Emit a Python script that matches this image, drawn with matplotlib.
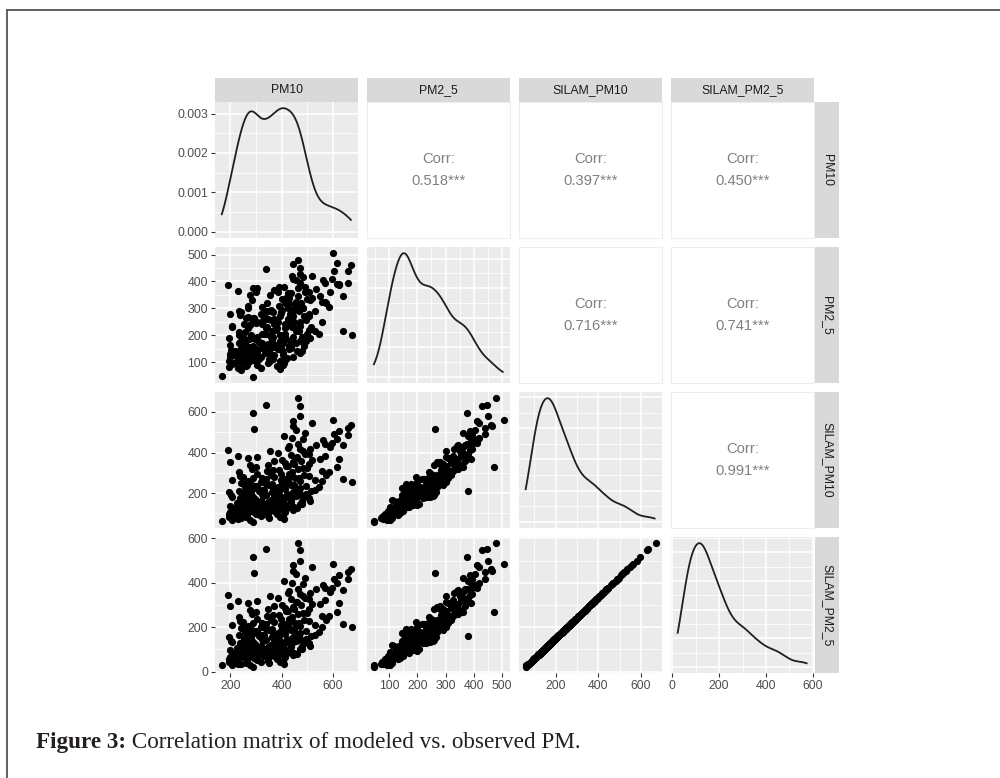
import numpy as np
import matplotlib
matplotlib.use("Agg")
import matplotlib.pyplot as plt
from matplotlib.lines import Line2D
from matplotlib.ticker import MaxNLocator

# ---------------- data ----------------
VARIABLES = ["PM10", "PM2_5", "SILAM_PM10", "SILAM_PM2_5"]

PM10 = [
    165, 205, 290, 240, 196, 410, 405, 265, 318, 195,
    350, 230, 278, 212, 200, 380, 218, 285, 248, 262,
    300, 335, 198, 412, 255, 276, 310, 345, 372, 478,
    420, 238, 268, 292, 325, 355, 388, 208, 388, 285,
    305, 362, 432, 445, 226, 250, 282, 330, 395, 418,
    460, 232, 298, 340, 232, 400, 242, 260, 288, 312,
    338, 365, 392, 495, 440, 202, 226, 252, 274, 296,
    322, 348, 376, 404, 428, 455, 480, 392, 236, 268,
    302, 328, 358, 384, 505, 436, 205, 280, 318, 370,
    398, 422, 247, 355, 470, 500, 195, 322, 255, 284,
    310, 342, 368, 395, 468, 448, 472, 515, 240, 270,
    300, 325, 352, 380, 405, 432, 458, 398, 262, 292,
    332, 362, 390, 415, 445, 545, 205, 238, 270, 305,
    338, 372, 398, 425, 452, 488, 530, 673, 250, 318,
    360, 412, 440, 470, 575, 290, 232, 285, 345, 390,
    425, 462, 505, 558, 300, 440, 412, 482, 615, 368,
    200, 268, 402, 438, 460, 492, 520, 570, 625, 445,
    385, 475, 228, 192, 355, 430, 462, 510, 570, 590,
    640, 485, 410, 440, 615, 560, 490, 660, 292, 625,
    520, 445, 658, 473, 446, 288, 600, 465, 473, 338,
    228, 262, 305, 345, 300, 392, 198, 236, 254, 271,
    289, 262, 326, 348, 366, 382, 405, 428, 448, 472,
    244, 318, 385, 246, 266, 294, 236, 334, 357, 378,
    396, 414, 438, 462, 486, 272, 352, 424, 512, 232,
    276, 305, 338, 364, 386, 412, 438, 466, 494, 530,
    258, 402, 268, 322, 358, 396, 430, 468, 506, 556,
    640, 342, 418, 450, 498, 585, 278, 372, 455, 508,
    548, 305, 472, 535, 598, 425, 482, 605, 458, 670,
]

PM2_5 = [
    48, 92, 45, 72, 80, 95, 88, 90, 78, 105,
    110, 120, 102, 98, 130, 85, 140, 110, 125, 100,
    150, 132, 165, 108, 145, 118, 112, 160, 128, 142,
    115, 175, 135, 108, 172, 105, 150, 128, 155, 118,
    138, 180, 165, 120, 102, 115, 190, 148, 104, 185,
    140, 200, 122, 205, 170, 145, 150, 160, 158, 175,
    225, 155, 200, 180, 230, 145, 125, 240, 185, 150,
    152, 168, 245, 135, 160, 170, 195, 178, 112, 228,
    140, 255, 192, 165, 220, 152, 235, 200, 118, 260,
    148, 245, 162, 130, 250, 205, 190, 240, 210, 260,
    175, 230, 195, 270, 215, 250, 180, 230, 285, 155,
    245, 205, 290, 225, 170, 280, 215, 200, 265, 145,
    255, 160, 380, 240, 195, 205, 230, 275, 300, 250,
    290, 240, 285, 260, 310, 270, 290, 200, 195, 280,
    295, 225, 295, 235, 320, 265, 290, 330, 260, 310,
    300, 345, 280, 325, 360, 240, 320, 300, 470, 285,
    280, 310, 335, 355, 300, 380, 340, 325, 390, 270,
    360, 320, 365, 385, 350, 340, 375, 330, 395, 360,
    345, 300, 380, 420, 390, 405, 360, 395, 262, 385,
    420, 465, 440, 450, 410, 375, 505, 478, 428, 445,
    78, 84, 88, 96, 110, 75, 118, 132, 150, 104,
    142, 126, 158, 138, 112, 162, 128, 148, 170, 135,
    98, 168, 150, 172, 160, 186, 145, 205, 168, 220,
    152, 195, 176, 228, 160, 236, 140, 242, 188, 210,
    238, 192, 262, 215, 248, 205, 272, 232, 258, 215,
    178, 295, 268, 305, 255, 282, 318, 290, 270, 248,
    215, 318, 340, 292, 335, 305, 350, 368, 325, 362,
    345, 375, 395, 370, 410, 355, 415, 440, 405, 460,
]

SILAM_PM10 = [
    62, 68, 58, 75, 82, 70, 88, 92, 85, 96,
    78, 98, 65, 90, 94, 99, 105, 112, 118, 102,
    125, 130, 138, 108, 142, 115, 120, 135, 110, 148,
    128, 145, 132, 104, 140, 118, 122, 126, 134, 112,
    146, 144, 136, 116, 121, 107, 149, 113, 131, 141,
    125, 139, 101, 147, 155, 162, 175, 168, 182, 158,
    190, 172, 185, 195, 178, 188, 152, 198, 165, 170,
    193, 157, 180, 163, 176, 187, 160, 171, 166, 192,
    154, 184, 167, 196, 174, 158, 181, 199, 161, 189,
    153, 197, 177, 151, 194, 183, 205, 215, 228, 238,
    210, 245, 220, 232, 208, 242, 225, 212, 248, 218,
    235, 202, 240, 214, 230, 246, 222, 236, 207, 226,
    217, 244, 211, 239, 204, 230, 262, 285, 255, 292,
    270, 280, 296, 258, 275, 288, 265, 254, 278, 252,
    298, 268, 283, 260, 290, 272, 305, 320, 340, 312,
    335, 318, 345, 308, 328, 302, 348, 325, 330, 315,
    355, 372, 362, 390, 378, 395, 365, 385, 370, 352,
    398, 360, 382, 412, 405, 430, 442, 418, 444, 425,
    435, 408, 482, 470, 468, 460, 495, 488, 517, 507,
    546, 530, 522, 580, 556, 595, 562, 668, 630, 634,
    72, 80, 95, 87, 97, 83, 106, 114, 127, 109,
    137, 119, 144, 103, 124, 133, 117, 140, 129, 146,
    111, 148, 156, 173, 184, 164, 176, 195, 159, 188,
    170, 182, 166, 192, 178, 197, 151, 186, 162, 212,
    224, 233, 247, 206, 228, 219, 240, 203, 237, 216,
    243, 249, 261, 276, 289, 266, 293, 272, 284, 257,
    270, 310, 333, 342, 322, 306, 337, 358, 375, 392,
    368, 380, 415, 438, 446, 422, 465, 490, 512, 535,
]

SILAM_PM2_5 = [
    28, 30, 22, 36, 42, 34, 48, 52, 45, 58,
    40, 60, 30, 50, 55, 56, 64, 72, 74, 61,
    84, 85, 96, 66, 97, 75, 76, 92, 70, 104,
    83, 101, 89, 62, 95, 78, 79, 84, 88, 71,
    103, 98, 93, 73, 80, 64, 105, 70, 90, 96,
    81, 94, 60, 102, 110, 116, 128, 122, 134, 112,
    142, 125, 137, 146, 131, 140, 107, 149, 119, 123,
    145, 111, 133, 117, 129, 139, 114, 124, 120, 144,
    109, 136, 121, 147, 127, 112, 134, 150, 115, 141,
    108, 148, 130, 106, 145, 135, 156, 165, 177, 186,
    160, 192, 169, 180, 158, 190, 174, 162, 195, 168,
    183, 153, 188, 164, 179, 193, 171, 184, 157, 175,
    167, 191, 161, 187, 155, 179, 208, 229, 202, 236,
    215, 225, 239, 204, 220, 232, 211, 201, 223, 199,
    241, 214, 227, 206, 234, 217, 248, 261, 280, 254,
    275, 260, 284, 250, 269, 245, 287, 266, 270, 257,
    294, 309, 300, 326, 315, 330, 303, 321, 307, 291,
    333, 298, 318, 346, 340, 363, 374, 352, 376, 358,
    367, 342, 410, 400, 398, 390, 422, 416, 443, 433,
    470, 455, 447, 500, 478, 514, 484, 578, 546, 550,
    34, 40, 54, 47, 57, 43, 65, 72, 85, 67,
    93, 77, 99, 62, 81, 89, 75, 95, 86, 102,
    69, 104, 111, 126, 137, 118, 130, 147, 113, 140,
    124, 134, 120, 143, 131, 148, 106, 138, 116, 163,
    172, 181, 194, 157, 176, 169, 189, 154, 185, 166,
    190, 196, 207, 221, 233, 212, 238, 218, 228, 203,
    215, 252, 274, 282, 263, 249, 276, 296, 312, 327,
    305, 316, 350, 370, 378, 356, 395, 418, 438, 460,
]

# upper-triangle correlation labels, row by row
CORR_LABELS = ["0.518***", "0.397***", "0.450***", "0.716***", "0.741***", "0.991***"]

X_TICKS = [[200, 400, 600], [100, 200, 300, 400, 500], [200, 400, 600], [0, 200, 400, 600]]
Y_TICKS = [[0.000, 0.001, 0.002, 0.003], [100, 200, 300, 400, 500], [200, 400, 600], [0, 200, 400, 600]]
Y_TICK_LABELS_ROW1 = ["0.000", "0.001", "0.002", "0.003"]

CAPTION_BOLD = "Figure 3:"
CAPTION_TEXT = " Correlation matrix of modeled vs. observed PM."

DATA = [PM10, PM2_5, SILAM_PM10, SILAM_PM2_5]

# ---------------- helpers ----------------
W, H = 1000, 778
fig = plt.figure(figsize=(W / 100, H / 100), dpi=100)
fig.patch.set_facecolor("white")

SANS = "Liberation Sans"
SERIF = "Liberation Serif"


def rect(x0, y0, w, h):
    return [x0 / W, 1 - (y0 + h) / H, w / W, h / H]


def expand(v, f=0.05):
    lo, hi = min(v), max(v)
    r = hi - lo
    return lo - f * r, hi + f * r


def minors(major, lo, hi):
    step = major[1] - major[0]
    out = []
    v = major[0] - step / 2
    while v < hi:
        if v > lo:
            out.append(v)
        v += step
    return out


def kde(x, adjust=0.85):
    x = np.asarray(x, float)
    n = len(x)
    sd = x.std(ddof=1)
    q75, q25 = np.percentile(x, [75, 25])
    bw = 0.9 * min(sd, (q75 - q25) / 1.34) * n ** -0.2 * adjust
    grid = np.linspace(x.min(), x.max(), 512)
    d = np.exp(-0.5 * ((grid[:, None] - x[None, :]) / bw) ** 2).sum(1) / (n * bw * np.sqrt(2 * np.pi))
    return grid, d


COL_X = [215, 367, 519, 671]
ROW_Y = [102, 247, 392, 537]
PW, PH = 143, 136
LIMS = [expand(v) for v in DATA]

PANEL_BG = "#EBEBEB"
TICK_COLOR = "#333333"
LABEL_COLOR = "#4D4D4D"

k = 0
for i in range(4):
    for j in range(4):
        ax = fig.add_axes(rect(COL_X[j], ROW_Y[i], PW, PH))
        for s in ax.spines.values():
            s.set_visible(False)
        if i < j:
            ax.set_facecolor("white")
            for s in ax.spines.values():
                s.set_visible(True)
                s.set_color("#EDEDED")
                s.set_linewidth(0.8)
            ax.set_xticks([])
            ax.set_yticks([])
            ax.text(0.5, 0.578, "Corr:", ha="center", va="center", fontsize=10.6,
                    color="#808080", family=SANS, transform=ax.transAxes)
            ax.text(0.5, 0.418, CORR_LABELS[k], ha="center", va="center", fontsize=10.6,
                    color="#808080", family=SANS, transform=ax.transAxes)
            k += 1
            continue

        ax.set_facecolor(PANEL_BG)
        ax.set_axisbelow(True)
        xlim = LIMS[j]
        ax.set_xlim(xlim)
        xt = X_TICKS[j]
        ax.set_xticks(xt)
        ax.set_xticks(minors(xt, *xlim), minor=True)

        if i == j:
            g, d = kde(DATA[i])
            ax.plot(g, d, color="#1F1F1F", lw=1.3, solid_capstyle="butt")
            top = d.max()
            ylim = (-0.05 * top, 1.05 * top)
            if i == 0:
                yt = Y_TICKS[0]
            else:
                yt = [v for v in MaxNLocator(nbins=5, steps=[1, 2, 2.5, 5, 10]).tick_values(0, top)
                      if ylim[0] <= v <= ylim[1]]
        else:
            ax.scatter(DATA[j], DATA[i], s=27, c="black", linewidths=0)
            ylim = LIMS[i]
            yt = Y_TICKS[i]
        ax.set_ylim(ylim)
        ax.set_yticks(yt)
        ax.set_yticks(minors(yt, *ylim), minor=True)
        if i == 0 and j == 0:
            ax.set_yticklabels(Y_TICK_LABELS_ROW1)

        ax.grid(which="major", color="white", lw=1.1)
        ax.grid(which="minor", color="white", lw=0.55)
        ax.tick_params(which="minor", length=0, labelbottom=False, labelleft=False)
        ax.tick_params(which="major", length=2.75, width=0.8, color=TICK_COLOR,
                       labelsize=8.8, labelcolor=LABEL_COLOR, pad=2.2)
        ax.tick_params(axis="x", which="major", bottom=(i == 3), labelbottom=(i == 3))
        ax.tick_params(axis="y", which="major", left=(j == 0), labelleft=(j == 0))
        for lab in ax.get_xticklabels() + ax.get_yticklabels():
            lab.set_family(SANS)

# strips
STRIP_BG = "#D9D9D9"
for j, name in enumerate(VARIABLES):
    sa = fig.add_axes(rect(COL_X[j], 78, PW, 24))
    sa.set_facecolor(STRIP_BG)
    sa.set_xticks([]); sa.set_yticks([])
    for s in sa.spines.values():
        s.set_visible(False)
    sa.text(0.5, 0.5, name, ha="center", va="center", fontsize=8.8, color="#1A1A1A",
            family=SANS, transform=sa.transAxes)
for i, name in enumerate(VARIABLES):
    sa = fig.add_axes(rect(815, ROW_Y[i], 24, PH))
    sa.set_facecolor(STRIP_BG)
    sa.set_xticks([]); sa.set_yticks([])
    for s in sa.spines.values():
        s.set_visible(False)
    sa.text(0.5, 0.5, name, ha="center", va="center", rotation=270, fontsize=8.8,
            color="#1A1A1A", family=SANS, transform=sa.transAxes)

# border (top and left edges of the framed figure)
fig.add_artist(Line2D([7 / W, 1], [1 - 10 / H, 1 - 10 / H], transform=fig.transFigure,
                      color="#333333", lw=1.1))
fig.add_artist(Line2D([7 / W, 7 / W], [0, 1 - 10 / H], transform=fig.transFigure,
                      color="#555555", lw=1.3))

# caption, scaled to the measured width of the reference caption
renderer = fig.canvas.get_renderer()
cap_x, cap_base, cap_width = 36, 748, 547
size = 14.0
t1 = fig.text(cap_x / W, 1 - cap_base / H, CAPTION_BOLD, fontsize=size, fontweight="bold",
              family=SERIF, va="baseline", ha="left", color="#231F20")
t2 = fig.text(0, 1 - cap_base / H, CAPTION_TEXT, fontsize=size, family=SERIF,
              va="baseline", ha="left", color="#231F20")
w_total = t1.get_window_extent(renderer).width + t2.get_window_extent(renderer).width
size = size * cap_width / w_total
t1.set_fontsize(size)
t2.set_fontsize(size)
w1 = t1.get_window_extent(renderer).width
t2.set_x((cap_x + w1) / W)

fig.savefig("out.png", dpi=100, facecolor="white")
